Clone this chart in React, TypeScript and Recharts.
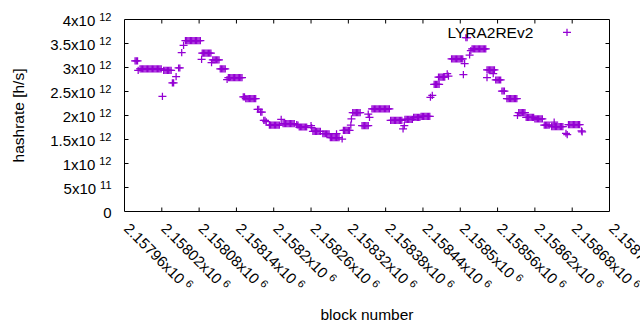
import React from 'react';
import { ScatterChart, Scatter, XAxis, YAxis, ReferenceArea, ReferenceLine, Legend } from 'recharts';

// block numbers are stored as offsets from this base block
const BLOCK_BASE = 2157960;

// each entry: [block offsets], hashrate in units of 10^12 h/s
const samples: [number[], number][] = [
  [[17, 19, 21], 3.14],
  [[22], 2.94],
  [[25, 27, 29, 31, 33, 35, 37, 39, 41, 43, 45, 47, 49, 51, 53, 55, 57, 59], 2.97],
  [[61], 2.40],
  [[63, 65, 67, 69, 71, 73, 75], 2.94],
  [[77, 79], 2.68],
  [[83], 2.81],
  [[87, 89], 2.99],
  [[92], 3.31],
  [[95], 3.46],
  [[98, 100, 102, 104, 106, 108, 110, 112, 114, 116, 118, 120, 122], 3.56],
  [[124], 3.17],
  [[125, 127, 129, 131, 133, 135, 137, 139], 3.30],
  [[140], 3.10],
  [[142, 144, 146, 148, 150, 152], 3.16],
  [[154, 156, 158, 160, 162], 2.97],
  [[165], 2.75],
  [[167, 169, 171, 173, 175, 177, 179, 181, 183, 185, 187, 189], 2.79],
  [[191, 193], 2.39],
  [[195, 197, 199, 201, 203, 205, 207, 209, 211], 2.35],
  [[214, 216], 2.13],
  [[219, 221], 2.07],
  [[224, 226], 1.90],
  [[228], 1.87],
  [[233, 235, 237, 239, 241, 243, 245, 247, 249], 1.80],
  [[252], 1.92],
  [[255, 257, 259, 261, 263, 265, 267, 269, 271, 273], 1.83],
  [[277], 1.81],
  [[279], 1.80],
  [[281, 283, 285, 287, 289, 291, 293], 1.76],
  [[300], 1.79],
  [[301], 1.75],
  [[303, 305, 307, 309, 311, 313, 315], 1.67],
  [[319, 321, 323, 325, 327, 329], 1.62],
  [[331, 333, 335, 337, 339, 341, 343, 345], 1.54],
  [[341], 1.62],
  [[350], 1.51],
  [[352, 354, 356, 358, 360, 362], 1.69],
  [[364], 1.80],
  [[365], 1.93],
  [[367, 369, 371, 373, 375, 377, 379], 2.06],
  [[382, 384, 386, 388, 390, 392], 1.79],
  [[392], 2.03],
  [[394], 1.96],
  [[398, 400, 402, 404, 406, 408, 410, 412, 414, 416, 418, 420, 422, 424, 426], 2.14],
  [[428, 430, 432, 434, 436, 438, 440, 442, 444, 446], 1.90],
  [[448], 1.72],
  [[450], 1.79],
  [[451, 453, 455, 457, 459, 461, 463], 1.92],
  [[465, 467, 469, 471, 473, 475], 1.96],
  [[477, 479, 481, 483, 485, 487, 489, 491], 1.98],
  [[492], 2.38],
  [[495], 2.42],
  [[498, 500, 502, 504, 506], 2.65],
  [[505, 507, 509, 511, 513, 515], 2.80],
  [[519], 2.87],
  [[521], 2.82],
  [[526, 528, 530, 532, 534, 536, 538, 540, 542, 544], 3.18],
  [[545], 2.85],
  [[547], 3.08],
  [[549, 551], 3.62],
  [[555], 3.26],
  [[557], 3.35],
  [[559, 561, 563, 565, 567, 569, 571, 573, 575, 577, 579, 581], 3.39],
  [[583, 585, 587, 589, 591, 593, 595], 2.95],
  [[583], 2.79],
  [[593], 2.87],
  [[597, 599, 601, 603, 605], 2.74],
  [[607, 609, 611], 2.51],
  [[615, 617, 619, 621, 623, 625, 627, 629, 631], 2.35],
  [[632], 2.00],
  [[634, 636, 638, 640, 642, 644], 2.06],
  [[646, 648, 650, 652, 654, 656, 658], 1.96],
  [[660, 662, 664, 666, 668, 670, 672], 1.93],
  [[675, 677, 679, 681, 683], 1.80],
  [[687, 689, 691, 693, 695, 697, 699, 701, 703, 705], 1.77],
  [[691], 1.86],
  [[710], 1.63],
  [[712], 1.60],
  [[714, 716, 718, 720, 722, 724, 726, 728, 730, 732], 1.81],
  [[735], 1.68],
  [[736], 1.66],
];

const xTicks = [
  2157960, 2158020, 2158080, 2158140, 2158200, 2158260, 2158320,
  2158380, 2158440, 2158500, 2158560, 2158620, 2158680, 2158740,
];
const yTicks = [0, 0.5, 1, 1.5, 2, 2.5, 3, 3.5, 4];
const X_DOMAIN: [number, number] = [2157960, 2158740];
const Y_DOMAIN: [number, number] = [0, 4];
const SERIES_NAME = 'LYRA2REv2';
const X_LABEL = 'block number';
const Y_LABEL = 'hashrate [h/s]';

const data = samples.flatMap(([offs, h]) => offs.map((o) => ({ block: BLOCK_BASE + o, h })));

const COLOR = '#9400d3';
const FONT = '"Liberation Sans", Arial, sans-serif';
const W = 640;
const H = 330;
const MARGIN = { top: 19.5, right: 30.5, bottom: 8.5, left: 0.5 };
const Y_AXIS_W = 124;
const X_AXIS_H = 110;
const PLOT_W = W - MARGIN.left - MARGIN.right - Y_AXIS_W;
const PLOT_H = H - MARGIN.top - MARGIN.bottom - X_AXIS_H;
const TICK_PX = 4;
const xTickLen = (TICK_PX * (X_DOMAIN[1] - X_DOMAIN[0])) / PLOT_W;
const yTickLen = (TICK_PX * (Y_DOMAIN[1] - Y_DOMAIN[0])) / PLOT_H;

const innerX = xTicks.slice(1, -1);
const innerY = yTicks.slice(1, -1);

const Plus = (props: any) => {
  const { cx, cy } = props;
  if (cx == null || cy == null) return null;
  return (
    <path
      d={`M${cx - 4},${cy}H${cx + 4}M${cx},${cy - 3.6}V${cy + 3.6}`}
      stroke={COLOR}
      strokeWidth={1.25}
      fill="none"
    />
  );
};

const XTick = (props: any) => {
  const { x, y, payload } = props;
  const x0 = x - 1.5;
  const y0 = y + 18;
  const mant = parseFloat((payload.value / 1e6).toFixed(5)).toString();
  return (
    <text x={x0} y={y0} transform={`rotate(45 ${x0} ${y0})`} fontSize={15} fontFamily={FONT} fill="#000">
      {mant}x10
      <tspan dx={4} dy={-5} fontSize={11}>6</tspan>
    </text>
  );
};

const YTick = (props: any) => {
  const { x, y, payload } = props;
  const v = payload.value as number;
  const tx = x - 13;
  const ty = y + 6;
  if (v === 0) {
    return (
      <text x={tx} y={ty} textAnchor="end" fontSize={15} fontFamily={FONT} fill="#000">0</text>
    );
  }
  const mant = v < 1 ? String(v * 10) : String(v);
  const exp = v < 1 ? '11' : '12';
  return (
    <text x={tx} y={ty} textAnchor="end" fontSize={15} fontFamily={FONT} fill="#000">
      {mant}x10
      <tspan dx={4} dy={-5} fontSize={11}>{exp}</tspan>
    </text>
  );
};

const XLabel = (props: any) => {
  const vb = props.viewBox || {};
  const cx = vb.x + vb.width / 2;
  const cy = vb.y + 108.5;
  return (
    <text x={cx} y={cy} textAnchor="middle" fontSize={15.5} fontFamily={FONT} fill="#000">{X_LABEL}</text>
  );
};

const YLabel = (props: any) => {
  const vb = props.viewBox || {};
  const cx = vb.x + 18;
  const cy = vb.y + vb.height / 2;
  return (
    <text
      x={cx}
      y={cy}
      transform={`rotate(-90 ${cx} ${cy})`}
      textAnchor="middle"
      dominantBaseline="central"
      fontSize={15.5}
      fontFamily={FONT}
      fill="#000"
    >
      {Y_LABEL}
    </text>
  );
};

const LegendBox = () => (
  <svg width={140} height={30} style={{ display: 'block' }}>
    <text x={93.3} y={20} textAnchor="end" fontSize={15.5} fontFamily={FONT} fill="#000">{SERIES_NAME}</text>
    <path d="M123,14.3H131M127,10.7V17.9" stroke={COLOR} strokeWidth={1.25} fill="none" />
  </svg>
);

export default function App() {
  return (
    <div style={{ position: 'absolute', left: 0, top: 0, width: W, height: H, background: '#fff' }}>
      <ScatterChart width={W} height={H} margin={MARGIN}>
        <XAxis
          dataKey="block"
          type="number"
          domain={X_DOMAIN}
          ticks={xTicks}
          interval={0}
          height={X_AXIS_H}
          axisLine={false}
          tickLine={false}
          tickSize={0}
          tickMargin={0}
          tick={<XTick />}
          label={<XLabel />}
        />
        <YAxis
          dataKey="h"
          type="number"
          domain={Y_DOMAIN}
          ticks={yTicks}
          interval={0}
          width={Y_AXIS_W}
          axisLine={false}
          tickLine={false}
          tickSize={0}
          tickMargin={0}
          tick={<YTick />}
          label={<YLabel />}
        />
        <ReferenceArea
          x1={X_DOMAIN[0]}
          x2={X_DOMAIN[1]}
          y1={Y_DOMAIN[0]}
          y2={Y_DOMAIN[1]}
          fill="none"
          fillOpacity={0}
          stroke="#000"
          strokeWidth={1}
          strokeOpacity={1}
          ifOverflow="visible"
        />
        {innerX.map((t) => (
          <ReferenceLine
            key={`xb${t}`}
            segment={[{ x: t, y: Y_DOMAIN[0] }, { x: t, y: Y_DOMAIN[0] + yTickLen }]}
            stroke="#000"
            strokeWidth={1}
            ifOverflow="visible"
          />
        ))}
        {innerX.map((t) => (
          <ReferenceLine
            key={`xt${t}`}
            segment={[{ x: t, y: Y_DOMAIN[1] }, { x: t, y: Y_DOMAIN[1] - yTickLen }]}
            stroke="#000"
            strokeWidth={1}
            ifOverflow="visible"
          />
        ))}
        {innerY.map((t) => (
          <ReferenceLine
            key={`yl${t}`}
            segment={[{ x: X_DOMAIN[0], y: t }, { x: X_DOMAIN[0] + xTickLen, y: t }]}
            stroke="#000"
            strokeWidth={1}
            ifOverflow="visible"
          />
        ))}
        {innerY.map((t) => (
          <ReferenceLine
            key={`yr${t}`}
            segment={[{ x: X_DOMAIN[1], y: t }, { x: X_DOMAIN[1] - xTickLen, y: t }]}
            stroke="#000"
            strokeWidth={1}
            ifOverflow="visible"
          />
        ))}
        <Scatter
          name={SERIES_NAME}
          data={data}
          dataKey="h"
          fill={COLOR}
          shape={<Plus />}
          isAnimationActive={false}
        />
        <Legend
          layout="vertical"
          align="center"
          verticalAlign="middle"
          wrapperStyle={{ position: 'absolute', left: 440, top: 18, width: 140, height: 30 }}
          content={<LegendBox />}
        />
      </ScatterChart>
    </div>
  );
}
